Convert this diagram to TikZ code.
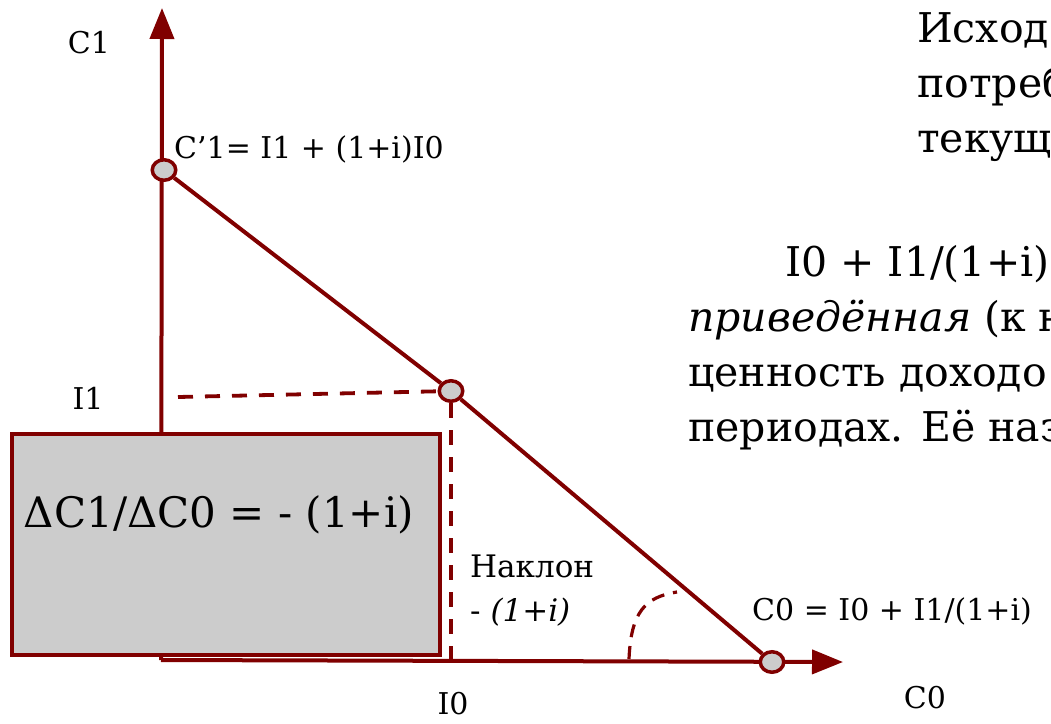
\documentclass[tikz,border=0pt]{standalone}
\usepackage{fontspec}
\setmainfont{DejaVu Serif}
\usetikzlibrary{arrows.meta,positioning,shapes.geometric}

\definecolor{axisred}{RGB}{128,0,0}
\definecolor{boxgray}{RGB}{204,204,204}

\begin{document}
\begin{tikzpicture}[
  x=1pt, y=-1pt,
  axis/.style  ={draw=axisred, line width=4pt, -{Triangle[length=31pt,width=24pt]}},
  budget/.style={draw=axisred, line width=4pt},
  guide/.style ={draw=axisred, line width=3.8pt, dash pattern=on 15pt off 12pt},
  pt/.style    ={ellipse, draw=axisred, fill=boxgray, line width=3.5pt,
                 minimum width=23.5pt, minimum height=20.5pt, inner sep=0pt},
  lbl/.style   ={font=\fontsize{30}{36}\selectfont, inner sep=0pt},
  big/.style   ={font=\fontsize{41}{48}\selectfont, inner sep=0pt, anchor=base west},
]
\path[use as bounding box] (0,0) rectangle (1051,723);

% --- axes ---
\coordinate (origin) at (161,660);
\coordinate (ytip) at (162,8);
\coordinate (xtip) at (843,662);
\draw[axis] (origin) -- (ytip);
\draw[axis] (origin) -- (xtip);

% --- slope box ---
\node[draw=axisred, fill=boxgray, line width=3.5pt, anchor=north west,
      minimum width=428pt, minimum height=221pt, inner sep=0pt] (slopebox) at (10,432) {};
\node[font=\fontsize{42}{50}\selectfont, inner sep=0pt] (slopetxt) at (219,515) {ΔC1/ΔC0 = - (1+i)};

% --- budget line ---
\node[pt] (c1pt)  at (164,170) {};
\node[pt] (midpt) at (451,391) {};
\node[pt] (c0pt)  at (772,662) {};
\draw[budget] (c1pt) -- (midpt);
\draw[budget] (midpt) -- (c0pt);

% --- guides ---
\coordinate (i1dash) at (178,397);
\coordinate (i0dash) at (451,659);
\draw[guide] (i1dash) -- (midpt);
\draw[guide] (midpt) -- (i0dash);
\coordinate (arcA) at (629,659);
\coordinate (arcB) at (677,592);
\draw[guide, line width=3.2pt, dash pattern=on 13pt off 9pt]
  (arcA) .. controls (631,612) and (645,597) .. (arcB);

% --- labels ---
\node[lbl] (c1lbl) at (89,43) {C1};
\node[lbl, anchor=west] (c1val) at (174,149) {C’1= I1 + (1+i)I0};
\node[lbl] (i1lbl) at (88,398) {I1};
\node[lbl] (i0lbl) at (453,704) {I0};
\node[lbl] (c0lbl) at (925,698) {C0};
\node[lbl, anchor=west] (c0val) at (752,611) {C0 = I0 + I1/(1+i)};
\node[lbl, font=\fontsize{31}{36}\selectfont, anchor=base west] (slope1) at (470,577) {Наклон};
\node[lbl, font=\fontsize{31}{36}\selectfont, anchor=base west] (slope2) at (470,621) {- \textit{(1+i)}};

% --- text on the right ---
\node[big] (txt1) at (917,42)  {Исход};
\node[big] (txt2) at (917,97)  {потреб};
\node[big] (txt3) at (917,152) {текущ};
\node[big] (txt4) at (785,276) {I0 + I1/(1+i)};
\node[big] (txt5) at (688,331) {\textit{приведённая} (к н};
\node[big] (txt6) at (688,386) {ценность доходо};
\node[big] (txt7) at (688,441) {периодах. Её наз};
\end{tikzpicture}
\end{document}
